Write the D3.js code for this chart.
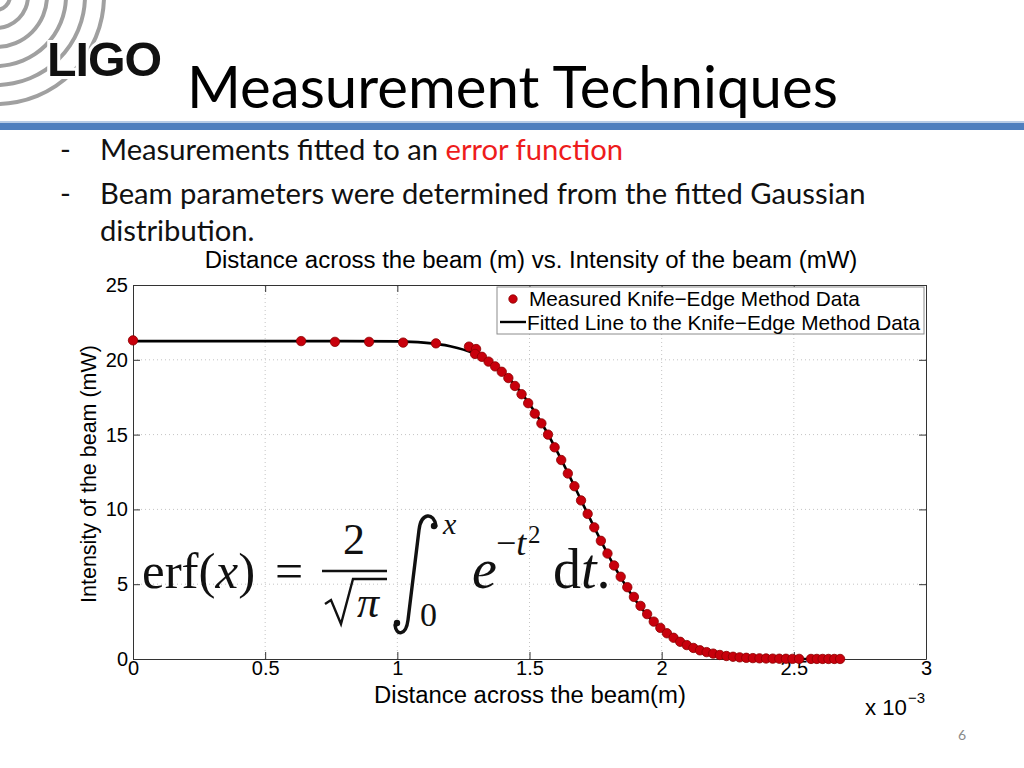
<!DOCTYPE html>
<html>
<head>
<meta charset="utf-8">
<script src="https://cdn.jsdelivr.net/npm/d3@7"></script>
<style>
  body { margin: 0; background: #fff; }
  svg { display: block; }
</style>
</head>
<body>
<div id="slide"></div>
<script>
// distance across the beam, in units of 1e-3 m
var measuredX = [0, 0.636, 0.764, 0.893, 1.022, 1.146, 1.271, 1.298, 1.294,
    1.320, 1.345, 1.370, 1.395, 1.420, 1.445, 1.470, 1.495, 1.520, 1.545,
    1.570, 1.595, 1.620, 1.645, 1.670, 1.695, 1.720, 1.745, 1.770, 1.795,
    1.820, 1.845, 1.870, 1.895, 1.920, 1.945, 1.970, 1.995, 2.020, 2.045,
    2.070, 2.095, 2.120, 2.145, 2.170, 2.195, 2.220, 2.245, 2.270, 2.295,
    2.320, 2.345, 2.370, 2.395, 2.420, 2.445, 2.470, 2.495, 2.520,
    2.565, 2.587, 2.609, 2.631, 2.653, 2.675];
// intensity of the beam (mW)
var measuredY = [21.3, 21.25, 21.2, 21.2, 21.15, 21.1, 20.88, 20.72, 20.39,
    20.2, 19.88, 19.56, 19.2, 18.78, 18.25, 17.7, 17.1, 16.4, 15.75,
    15.0, 14.15, 13.3, 12.4, 11.55, 10.6, 9.7, 8.8, 7.9, 7.05,
    6.25, 5.5, 4.8, 4.15, 3.55, 3.0, 2.5, 2.08, 1.72, 1.42,
    1.15, 0.93, 0.74, 0.58, 0.46, 0.36, 0.27, 0.2, 0.15, 0.11,
    0.08, 0.06, 0.045, 0.035, 0.025, 0.02, 0.015, 0.01, 0.008,
    0.005, 0.005, 0.004, 0.003, 0.003, 0.002];

var fitX = [0, 0.5, 0.8, 1.0, 1.1, 1.2, 1.25, 1.3, 1.35, 1.4, 1.45, 1.5, 1.55,
    1.6, 1.65, 1.7, 1.75, 1.8, 1.85, 1.9, 1.95, 2.0, 2.05, 2.1, 2.15, 2.2,
    2.25, 2.3, 2.4, 2.5, 2.675];
var fitY = [21.25, 21.25, 21.25, 21.23, 21.15, 20.91, 20.68, 20.34, 19.82,
    19.13, 18.21, 17.04, 15.64, 14.03, 12.27, 10.44, 8.62, 6.88, 5.31, 3.95,
    2.84, 1.96, 1.30, 0.84, 0.51, 0.30, 0.17, 0.09, 0.02, 0.004, 0];

var xTicks = [0, 0.5, 1, 1.5, 2, 2.5, 3];
var yTicks = [0, 5, 10, 15, 20, 25];

var legendLabels = ['Measured Knife\u2212Edge Method Data',
    'Fitted Line to the Knife\u2212Edge Method Data'];

var W = 1024;
var H = 768;
var sans = "'Liberation Sans', Arial, Helvetica, sans-serif";
var slideFont = "Lato, 'Open Sans', sans-serif";
var serif = "'Liberation Serif', 'DejaVu Serif', serif";

var svg = d3.select('#slide').append('svg')
    .attr('width', W)
    .attr('height', H)
    .style('background', 'white');

// scale a text's font-size so it spans the given width
function fitWidth(sel, target) {
    var size = parseFloat(sel.attr('font-size'));
    var len = sel.node().getComputedTextLength();
    var s = size * target / len;
    sel.attr('font-size', s);
    return s;
}

// ---- header: logo, title, blue rule ----
var logo = svg.append('g');
var arcGen = d3.arc()
    .startAngle(Math.PI / 2)
    .endAngle(Math.PI);
[14, 32, 51, 70, 89, 108].forEach(r => {
    logo.append('path')
        .attr('d', arcGen.innerRadius(r - 2).outerRadius(r + 2)())
        .attr('transform', 'translate(-4,-4)')
        .attr('fill', '#a0a0a0');
});
var ligo = logo.append('text')
    .text('LIGO')
    .attr('x', 47)
    .attr('y', 76)
    .attr('font-family', sans)
    .attr('font-weight', 'bold')
    .attr('font-size', 46)
    .attr('letter-spacing', -1)
    .attr('fill', '#111')
    .attr('stroke', 'white')
    .attr('stroke-width', 6)
    .attr('paint-order', 'stroke');
fitWidth(ligo, 114);

var title = svg.append('text')
    .text('Measurement Techniques')
    .attr('x', 187)
    .attr('y', 108)
    .attr('font-family', slideFont)
    .attr('font-size', 60)
    .attr('fill', '#000');
fitWidth(title, 651);

svg.append('rect')
    .attr('x', 0).attr('y', 121).attr('width', W).attr('height', 2)
    .attr('fill', '#b8cce6');
svg.append('rect')
    .attr('x', 0).attr('y', 123).attr('width', W).attr('height', 7)
    .attr('fill', '#4f7fbe');

// ---- bullets ----
var b2 = svg.append('text')
    .text('Beam parameters were determined from the fitted Gaussian')
    .attr('x', 100).attr('y', 204)
    .attr('font-family', slideFont)
    .attr('font-size', 26)
    .attr('fill', '#111');
var bulletSize = fitWidth(b2, 766);

var b1 = svg.append('text')
    .attr('x', 100).attr('y', 160)
    .attr('font-family', slideFont)
    .attr('font-size', bulletSize)
    .attr('fill', '#111');
b1.append('tspan').text('Measurements fitted to an ');
b1.append('tspan').text('error function').attr('fill', '#ee1c1c');

svg.append('text')
    .text('distribution.')
    .attr('x', 100).attr('y', 241)
    .attr('font-family', slideFont)
    .attr('font-size', bulletSize)
    .attr('fill', '#111');

[160, 204].forEach(y => {
    svg.append('text')
        .text('-')
        .attr('x', 60).attr('y', y)
        .attr('font-family', slideFont)
        .attr('font-size', bulletSize)
        .attr('fill', '#111');
});

// ---- chart ----
var x0 = 133, x1 = 926, y0 = 659, y1 = 285;

var xScale = d3.scaleLinear().domain([0, 3]).range([x0, x1]);
var yScale = d3.scaleLinear().domain([0, 25]).range([y0, y1]);

var chart = svg.append('g').attr('class', 'chart');

// dotted grid
chart.append('g').selectAll('line')
    .data(xTicks.slice(1, -1))
    .join('line')
    .attr('x1', d => xScale(d)).attr('x2', d => xScale(d))
    .attr('y1', y0).attr('y2', y1)
    .attr('stroke', '#c4c4c4')
    .attr('stroke-dasharray', '1,3');
chart.append('g').selectAll('line')
    .data(yTicks.slice(1, -1))
    .join('line')
    .attr('y1', d => yScale(d)).attr('y2', d => yScale(d))
    .attr('x1', x0).attr('x2', x1)
    .attr('stroke', '#c4c4c4')
    .attr('stroke-dasharray', '1,3');

var xAxis = d3.axisBottom(xScale).tickValues(xTicks)
    .tickFormat(d3.format('')).tickSizeInner(-7).tickSizeOuter(0).tickPadding(4);
var yAxis = d3.axisLeft(yScale).tickValues(yTicks)
    .tickSizeInner(-7).tickSizeOuter(0).tickPadding(5);
var xTop = d3.axisTop(xScale).tickValues(xTicks)
    .tickFormat('').tickSizeInner(-7).tickSizeOuter(0);
var yRight = d3.axisRight(yScale).tickValues(yTicks)
    .tickFormat('').tickSizeInner(-7).tickSizeOuter(0);

function styleAxis(g) {
    g.select('.domain').attr('stroke', '#333');
    g.selectAll('.tick line').attr('stroke', '#333');
    g.selectAll('.tick text')
        .attr('font-family', sans)
        .attr('font-size', 20)
        .attr('fill', '#000');
}

chart.append('g')
    .attr('transform', `translate(0,${y0})`)
    .call(xAxis).call(styleAxis)
    .selectAll('.tick text').attr('dy', '0.62em');
chart.append('g')
    .attr('transform', `translate(${x0},0)`)
    .call(yAxis).call(styleAxis);
chart.append('g')
    .attr('transform', `translate(0,${y1})`)
    .call(xTop).call(styleAxis);
chart.append('g')
    .attr('transform', `translate(${x1},0)`)
    .call(yRight).call(styleAxis);

// formula overlay
var eq = chart.append('g')
    .attr('font-family', serif)
    .attr('fill', '#111');
var erfText = eq.append('text')
    .attr('x', 142).attr('y', 588)
    .attr('font-size', 51);
erfText.append('tspan').text('erf(');
erfText.append('tspan').text('x').attr('font-style', 'italic');
erfText.append('tspan').text(')');
eq.append('text').text('=')
    .attr('x', 275).attr('y', 588).attr('font-size', 50);
eq.append('text').text('2')
    .attr('x', 354).attr('y', 554).attr('font-size', 44)
    .attr('text-anchor', 'middle');
eq.append('line')
    .attr('x1', 322).attr('x2', 387).attr('y1', 571).attr('y2', 571)
    .attr('stroke', '#111').attr('stroke-width', 2.5);
eq.append('path')
    .attr('d', 'M325,604 L331,600 L341,624 L353,579 L387,579')
    .attr('fill', 'none').attr('stroke', '#111').attr('stroke-width', 2.4)
    .attr('stroke-linejoin', 'miter');
eq.append('text').text('\u03c0')
    .attr('x', 357).attr('y', 617).attr('font-size', 44)
    .attr('font-style', 'italic');
eq.append('path')
    .attr('d', 'M436,526 C434,512 421,512 419,530 L408,620 C406,636 396,636 395,625')
    .attr('fill', 'none').attr('stroke', '#111').attr('stroke-width', 3.4)
    .attr('stroke-linecap', 'round');
eq.append('circle').attr('cx', 434).attr('cy', 526).attr('r', 3.2);
eq.append('circle').attr('cx', 397).attr('cy', 623).attr('r', 3.2);
eq.append('text').text('x')
    .attr('x', 443).attr('y', 534).attr('font-size', 30)
    .attr('font-style', 'italic');
eq.append('text').text('0')
    .attr('x', 420).attr('y', 626).attr('font-size', 34);
eq.append('text').text('e')
    .attr('x', 472).attr('y', 588).attr('font-size', 56)
    .attr('font-style', 'italic');
var sup = eq.append('text')
    .attr('x', 496).attr('y', 555).attr('font-size', 36);
sup.append('tspan').text('\u2212');
sup.append('tspan').text('t').attr('font-style', 'italic');
eq.append('text').text('2')
    .attr('x', 528).attr('y', 543).attr('font-size', 25);
var dt = eq.append('text')
    .attr('x', 553).attr('y', 588).attr('font-size', 56);
dt.append('tspan').text('d');
dt.append('tspan').text('t').attr('font-style', 'italic');
dt.append('tspan').text('.');

// fitted line
var line = d3.line()
    .x((d, i) => xScale(fitX[i]))
    .y(d => yScale(d))
    .curve(d3.curveMonotoneX);
chart.append('path')
    .datum(fitY)
    .attr('d', line)
    .attr('fill', 'none')
    .attr('stroke', '#000')
    .attr('stroke-width', 2.6);

// measured points
chart.append('g').selectAll('circle')
    .data(measuredY)
    .join('circle')
    .attr('cx', (d, i) => xScale(measuredX[i]))
    .attr('cy', d => yScale(d))
    .attr('r', 4.7)
    .attr('fill', '#c8000c')
    .attr('stroke', '#8a0000')
    .attr('stroke-width', 0.8);

// legend
var legend = chart.append('g');
legend.append('rect')
    .attr('x', 497).attr('y', 287).attr('width', 427).attr('height', 47)
    .attr('fill', 'white').attr('stroke', '#8c8c8c');
legend.append('circle')
    .attr('cx', 513).attr('cy', 299).attr('r', 4.2)
    .attr('fill', '#c8000c').attr('stroke', '#8a0000').attr('stroke-width', 0.8);
legend.append('line')
    .attr('x1', 500).attr('x2', 526).attr('y1', 322).attr('y2', 322)
    .attr('stroke', '#000').attr('stroke-width', 2.4);
var lt1 = legend.append('text')
    .text(legendLabels[0])
    .attr('x', 529).attr('y', 306)
    .attr('font-family', sans).attr('font-size', 18);
var lsize = fitWidth(lt1, 331);
legend.append('text')
    .text(legendLabels[1])
    .attr('x', 527).attr('y', 330)
    .attr('font-family', sans).attr('font-size', lsize);

// titles
var ct = chart.append('text')
    .text('Distance across the beam (m) vs. Intensity of the beam (mW)')
    .attr('x', 531).attr('y', 268)
    .attr('text-anchor', 'middle')
    .attr('font-family', sans).attr('font-size', 21);
fitWidth(ct, 653);

var xl = chart.append('text')
    .text('Distance across the beam(m)')
    .attr('x', 530).attr('y', 703)
    .attr('text-anchor', 'middle')
    .attr('font-family', sans).attr('font-size', 21);
fitWidth(xl, 312);

var yl = chart.append('text')
    .text('Intensity of the beam (mW)')
    .attr('transform', `translate(96,${(345 + 603) / 2}) rotate(-90)`)
    .attr('text-anchor', 'middle')
    .attr('font-family', sans).attr('font-size', 21);
fitWidth(yl, 258);

var expo = chart.append('text')
    .text('x 10')
    .attr('x', 865).attr('y', 715)
    .attr('font-family', sans).attr('font-size', 21);
fitWidth(expo, 42);
chart.append('text')
    .text('\u22123')
    .attr('x', 908).attr('y', 703)
    .attr('font-family', sans).attr('font-size', 15);

// page number
svg.append('text')
    .text('6')
    .attr('x', 958).attr('y', 740)
    .attr('font-family', slideFont).attr('font-size', 14)
    .attr('fill', '#8a8a8a');
</script>
</body>
</html>
